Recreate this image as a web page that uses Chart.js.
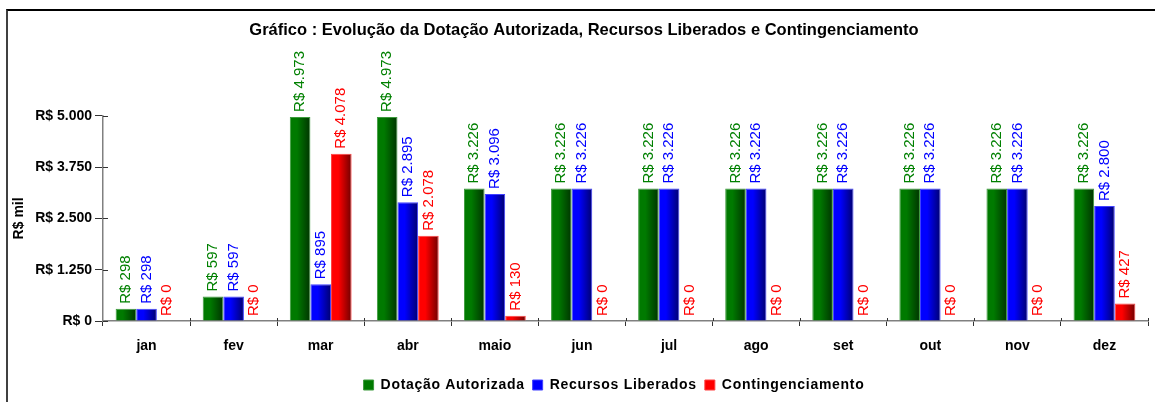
<!DOCTYPE html>
<html>
<head>
<meta charset="utf-8">
<script src="https://cdn.jsdelivr.net/npm/chart.js@4.4.0/dist/chart.umd.min.js"></script>
<style>
  html, body { margin: 0; padding: 0; background: #fff; }
  #frame {
    position: absolute; left: 6px; top: 9px; width: 1200px; height: 500px;
    border-left: 2px solid #404040; border-top: 2px solid #000;
  }
  #wrap { position: absolute; left: 0; top: 0; width: 1155px; height: 402px; }
</style>
</head>
<body>
<div id="frame"></div>
<div id="wrap"><canvas id="myChart" width="1155" height="402"></canvas></div>
<script>
var meses = ['jan', 'fev', 'mar', 'abr', 'maio', 'jun', 'jul', 'ago', 'set', 'out', 'nov', 'dez'];
var dotacao = [298, 597, 4973, 4973, 3226, 3226, 3226, 3226, 3226, 3226, 3226, 3226];
var recursos = [298, 597, 895, 2895, 3096, 3226, 3226, 3226, 3226, 3226, 3226, 2800];
var contingenciamento = [0, 0, 4078, 2078, 130, 0, 0, 0, 0, 0, 0, 427];
var yTicks = [0, 1250, 2500, 3750, 5000];

var fonte = 'Liberation Sans, Arial, sans-serif';

function reais(v) {
    return 'R$ ' + Math.round(v).toString().replace(/\B(?=(\d{3})+(?!\d))/g, '.');
}

// cores: base, escura (gradiente), borda, texto
var cores = [
    { base: '#007a00', escura: '#003400', borda: '#3c9a3c', texto: '#008000' },
    { base: '#0000ff', escura: '#000070', borda: '#4040ff', texto: '#0000ff' },
    { base: '#ff0000', escura: '#700000', borda: '#ff4040', texto: '#ff0000' }
];

// desloca um bloco (legenda/título) e ajusta o espaçamento entre letras
function ajustaBloco(chart, bloco, dx, espaco) {
    if (!bloco) return;
    ['fit', 'draw'].forEach(function(nome) {
        if (typeof bloco[nome] !== 'function') return;
        const orig = bloco[nome].bind(bloco);
        bloco[nome] = function() {
            const c = chart.ctx;
            c.save();
            c.letterSpacing = espaco;
            if (nome === 'draw') c.translate(dx, 0);
            orig.apply(null, arguments);
            c.restore();
        };
    });
}

// gradiente horizontal em cada barra
const gradientePlugin = {
    id: 'gradiente',
    afterInit(chart) {
        ajustaBloco(chart, chart.legend, 40, '0.7px');
        ajustaBloco(chart, chart.titleBlock, 10, '0px');
    },
    beforeDatasetsDraw(chart) {
        const ctx = chart.ctx;
        chart.data.datasets.forEach(function(ds, i) {
            const meta = chart.getDatasetMeta(i);
            meta.data.forEach(function(el) {
                const x0 = el.x - el.width / 2, x1 = el.x + el.width / 2;
                const g = ctx.createLinearGradient(x0, 0, x1, 0);
                g.addColorStop(0, cores[i].base);
                g.addColorStop(0.35, cores[i].base);
                g.addColorStop(1, cores[i].escura);
                el.options.backgroundColor = g;
            });
        });
    }
};

// rótulos verticais acima das barras + marcas cruzando os eixos
const rotulosPlugin = {
    id: 'rotulos',
    afterDatasetsDraw(chart) {
        const ctx = chart.ctx;
        ctx.save();
        ctx.font = '15px ' + fonte;
        ctx.textAlign = 'left';
        ctx.textBaseline = 'middle';
        chart.data.datasets.forEach(function(ds, i) {
            const meta = chart.getDatasetMeta(i);
            meta.data.forEach(function(el, j) {
                ctx.save();
                ctx.translate(el.x, el.y - 5);
                ctx.rotate(-Math.PI / 2);
                ctx.fillStyle = cores[i].texto;
                ctx.fillText(reais(ds.data[j]), 0, 0);
                ctx.restore();
            });
        });
        // marcas internas
        const xs = chart.scales.x, ys = chart.scales.y;
        ctx.strokeStyle = '#333';
        ctx.lineWidth = 1;
        ctx.beginPath();
        yTicks.forEach(function(v) {
            const py = Math.round(ys.getPixelForValue(v)) + 0.5;
            ctx.moveTo(xs.left, py);
            ctx.lineTo(xs.left + 5, py);
        });
        for (let k = 1; k <= meses.length; k++) {
            const px = Math.round(xs.left + (xs.right - xs.left) * k / meses.length) + 0.5;
            ctx.moveTo(px, ys.bottom);
            ctx.lineTo(px, ys.bottom - 3);
        }
        ctx.stroke();
        ctx.restore();
    }
};

function serie(label, data, i) {
    return {
        label: label,
        data: data,
        backgroundColor: function() { return cores[i].base; },
        borderColor: cores[i].borda,
        borderWidth: 1,
        categoryPercentage: 0.71,
        barPercentage: 1.0
    };
}

const ctx = document.getElementById('myChart').getContext('2d');
let myChart = new Chart(ctx, {
    type: 'bar',
    data: {
        labels: meses,
        datasets: [
            serie('Dotação Autorizada', dotacao, 0),
            serie('Recursos Liberados', recursos, 1),
            serie('Contingenciamento', contingenciamento, 2)
        ]
    },
    options: {
        responsive: false,
        animation: false,
        layout: { padding: { left: 0, right: 7, top: 0, bottom: 0 } },
        plugins: {
            title: {
                display: true,
                text: 'Gráfico : Evolução da Dotação Autorizada, Recursos Liberados e Contingenciamento',
                color: '#000',
                font: { family: fonte, size: 16.5, weight: 'bold' },
                padding: { top: 21, bottom: 75 }
            },
            legend: {
                position: 'bottom',
                labels: {
                    color: '#000',
                    font: { family: fonte, size: 14, weight: 'bold' },
                    boxWidth: 10,
                    boxHeight: 10,
                    padding: 8
                }
            },
            tooltip: { enabled: false }
        },
        scales: {
            x: {
                grid: { drawOnChartArea: false, tickLength: 5, color: '#333', offset: true },
                border: { color: '#808080', width: 1.5 },
                ticks: { color: '#000', font: { family: fonte, size: 14, weight: 'bold' }, padding: 12 },
                afterFit: function(scale) { scale.height = 49; }
            },
            y: {
                min: 0,
                max: 5000,
                afterBuildTicks: function(scale) {
                    scale.ticks = yTicks.map(function(v) { return { value: v }; });
                },
                grid: { drawOnChartArea: false, tickLength: 8, color: '#333' },
                border: { color: '#808080', width: 1.5 },
                ticks: {
                    color: '#000',
                    font: { family: fonte, size: 14, weight: 'bold' },
                    padding: 3,
                    callback: function(v) { return reais(v); }
                },
                title: {
                    display: true,
                    text: 'R$ mil',
                    color: '#000',
                    font: { family: fonte, size: 14, weight: 'bold' },
                    padding: { top: 11, bottom: 0 }
                },
                afterFit: function(scale) { scale.width = 103; }
            }
        }
    },
    plugins: [gradientePlugin, rotulosPlugin]
});
</script>
</body>
</html>
